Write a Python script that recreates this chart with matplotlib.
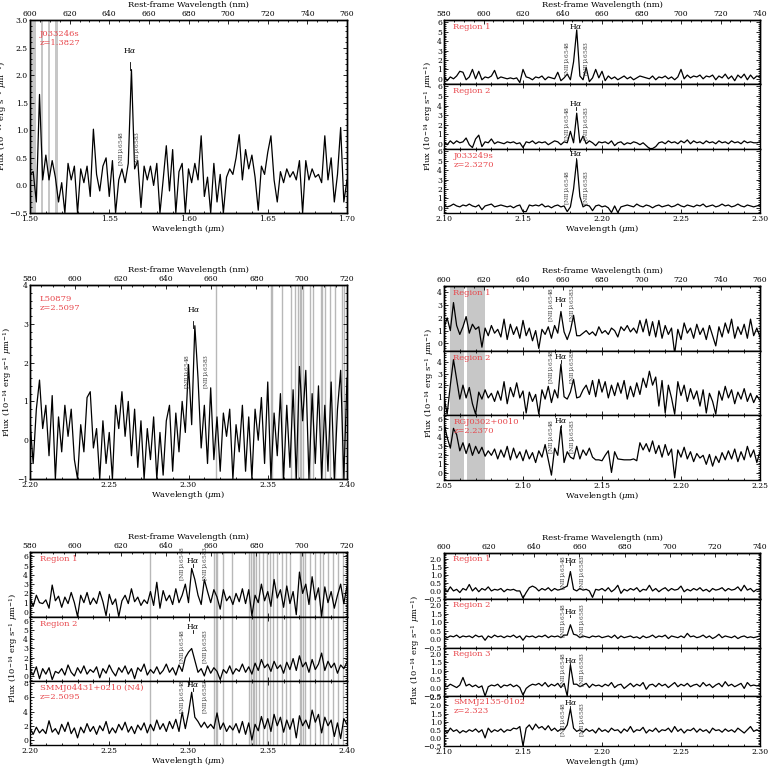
import numpy as np
import matplotlib.pyplot as plt
from matplotlib.ticker import MultipleLocator, AutoMinorLocator

plt.rcParams['font.family'] = 'DejaVu Serif'
plt.rcParams['mathtext.fontset'] = 'dejavuserif'

RED = '#e8474c'
W, H = 780.0, 767.0

# ---- spectra (flux, 1e-14 erg/s/um), evenly sampled over the x range ----
j033246 = [0.2, 0.25, -0.3, 1.65, 0.1, 0.55, 0.1, 0.45, 0.15, -0.3,
           0.05, -0.5, 0.4, 0.1, 0.35, -0.5, 0.3, 0.05, 0.35, -0.2,
           1.02, 0.2, -0.1, 0.35, 0.5, -0.2, 0.45, -0.5, 0.1, 0.3,
           0.05, 0.4, 2.1, 0.3, 0.45, -0.4, 0.35, 0.1, 0.35, 0.0,
           0.4, -0.5, 0.1, 0.72, -0.1, 0.65, -0.5, 0.25, 0.4, -0.5,
           0.3, 0.05, 0.4, 0.1, 0.9, -0.2, 0.15, -0.5, 0.4, -0.3,
           0.2, -0.5, 0.15, 0.3, 0.2, 0.5, 0.92, 0.1, 0.65, 0.3,
           0.55, 0.15, -0.45, 0.35, 0.2, 0.6, 0.9, 0.1, -0.3, 0.25,
           0.05, 0.3, 0.15, 0.25, 0.1, 0.45, -0.5, 0.45, 0.1, 0.3,
           0.15, 0.2, 0.05, 0.9, 0.1, 0.5, -0.3, 0.2, 1.05, -0.3, 0.1]

j033249_r1 = [0.3, -0.2, 0.2, 0.0, 0.3, 0.8, 0.7, -0.1, 0.2, 1.0,
              0.0, 0.8, -0.1, 0.2, 0.1, 0.3, 0.9, 0.0, 0.2, 0.1,
              0.0, 0.1, 0.0, 0.1, -0.4, 1.0, 0.2, 0.1, -0.1, 0.2,
              0.1, 0.3, -0.1, 0.2, 0.1, 0.0, 0.7, -0.2, 0.1, 0.5,
              -0.1, 1.8, 5.2, 0.3, -0.1, 1.2, -0.3, 0.1, 1.0, 0.1,
              0.8, -0.2, 0.3, 0.0, 0.2, -0.1, 0.1, 0.3, 0.0, 0.2,
              -0.1, 0.1, 0.3, 0.2, 0.1, 0.0, 0.3, -0.1, 0.2, 0.1,
              0.3, 0.0, 0.2, -0.1, 0.2, 1.0, 0.0, 0.4, 0.1, 0.3,
              0.2, 0.4, 0.0, 0.3, 0.2, 0.4, -0.1, 0.3, 0.1, 0.5,
              0.0, 0.3, -0.2, 0.4, 0.1, 0.5, -0.1, 0.4, 0.0, 0.3, 0.2]
j033249_r2 = [0.2, -0.1, 0.3, 0.0, 0.3, 0.1, 0.2, 0.6, -0.1, -0.4,
              0.5, 0.9, -0.3, 0.2, 0.1, 0.5, 0.0, 0.2, 0.1, 0.0,
              0.2, 0.1, 0.2, 0.0, 0.1, -0.4, 0.2, 0.1, 0.3, 0.0,
              0.2, 0.1, 0.2, -0.1, 0.1, 0.3, 0.2, -0.1, 0.2, 0.1,
              1.3, 0.1, 3.2, 0.1, 0.8, 0.0, 0.3, 0.1, -0.2, 0.2,
              0.1, 0.2, 0.0, 0.3, -0.2, 0.1, 0.2, -0.1, 0.1, 0.0,
              0.2, 0.1, -0.1, 0.1, -0.2, -0.5, -0.5, -0.3, 0.1, 0.2,
              0.0, 0.3, 0.1, 0.2, 0.0, 0.3, 0.1, 0.4, 0.0, 0.3,
              0.1, 0.2, 0.0, 0.3, 0.1, 0.2, 0.0, 0.3, 0.1, 0.2,
              0.0, 0.3, 0.1, 0.2, 0.0, 0.3, 0.1, 0.2, 0.1, 0.1, 0.2]
j033249_all = [0.3, 0.1, 0.2, 0.4, 0.2, 0.1, 0.3, 0.2, 0.4, 0.2,
               0.1, 0.3, -0.2, 0.2, 0.3, 0.4, 0.1, 0.2, 0.3, 0.2,
               0.1, 0.2, 0.0, 0.2, 0.3, -0.4, -0.4, 0.3, 0.2, 0.3,
               0.2, 0.4, 0.1, 0.2, 0.0, 0.2, 0.3, 0.1, 0.2, -0.4,
               0.1, 2.0, 5.1, 1.2, 0.1, 0.3, 0.2, -0.3, 0.2, 0.3,
               0.1, 0.2, 0.0, -0.5, 0.2, -0.5, 0.1, 0.2, 0.3, 0.2,
               0.1, 0.4, 0.2, 0.1, 0.3, 0.2, 0.0, 0.2, 0.3, 0.1,
               0.2, 0.3, 0.1, 0.2, 0.4, 0.2, 0.1, 0.3, 0.2, 0.1,
               0.3, 0.2, 0.4, 0.1, 0.2, 0.3, 0.1, 0.2, 0.4, 0.2,
               0.3, 0.1, 0.2, 0.4, 0.2, 0.1, 0.3, 0.2, 0.1, 0.2, 0.3]

l50879 = [0.5, -0.6, 0.8, 1.55, 0.3, 0.9, -0.4, 1.15, -1.0, 0.6,
          -0.3, 0.9, 0.1, 0.8, -0.5, -1.0, 0.4, -0.3, 1.1, 1.25,
          -0.2, 0.3, -1.0, 0.5, -0.6, 0.2, -1.0, 0.9, 0.3, 1.25,
          0.1, 1.0, -0.4, 0.8, -0.7, 0.5, -1.0, 0.3, -0.5, 0.6,
          -1.0, 0.2, -0.9, 0.5, 0.9, -0.8, 0.7, -0.3, 1.0, 0.2,
          1.95, 0.4, 2.95, 1.6, -0.2, 0.9, -0.6, 1.35, -0.5, 0.6,
          -0.8, 0.7, 0.1, 0.8, -1.0, 0.4, -0.3, 0.9, -0.8, 0.6,
          -1.0, 0.8, 0.0, 1.1, -0.6, 1.5, -1.0, 0.7, -0.4, 1.2,
          -1.0, 0.9, -0.7, 1.3, -1.0, 1.9, 0.5, 1.8, -1.0, 1.2,
          -0.6, 1.4, -1.0, 0.9, -0.8, 1.5, -1.0, 0.8, 1.8, -1.0, 1.6]

rgj0302_r1 = [1.2, 2.0, 1.0, 3.2, 1.4, 0.7, 1.3, 2.1, 0.8, 1.5,
              1.1, 1.3, -0.3, 1.2, 0.6, 1.4, 0.8, 1.1, 0.5, 1.9,
              0.3, 1.5, 0.7, 1.3, 0.4, 1.8, 0.6, 1.2, 0.2, 1.0,
              -0.4, 1.1, 0.7, 1.3, 0.4, 1.4, 0.8, 2.5, 0.9, 0.3,
              1.0, 2.2, 0.6, 0.6, 0.8, 1.0, 0.7, 0.9, 0.6, 1.3,
              0.8, 1.0, 0.7, 1.2, 1.0, 0.5, 1.3, 1.0, 1.4, 0.9,
              1.2, 0.8, 1.8, 0.9, 1.9, 0.6, 1.7, 0.5, 1.8, 0.4,
              1.4, 0.7, 1.2, -0.8, 1.1, 0.3, 1.6, 0.8, 1.2, 0.4,
              1.5, 0.7, 1.2, 0.3, 1.4, 0.6, -0.2, 1.3, 0.5, 1.6,
              0.8, 1.9, 0.4, 1.3, 0.7, 1.5, 0.4, 1.9, 0.6, 1.2, 0.5]
rgj0302_r2 = [1.0, -0.5, 2.0, 4.2, 2.5, 0.8, 2.0, 0.9, 1.8, 0.4,
              -0.5, 1.4, 0.8, 1.6, 0.9, 1.3, 0.6, 1.5, 0.7, 2.3,
              0.4, 1.8, 1.0, 2.2, 0.9, 1.5, -0.4, 1.4, 0.6, 1.2,
              -0.5, 1.6, 0.8, 1.9, 0.5, 1.6, 0.9, 3.8, 1.0, 0.8,
              1.4, 2.5, 0.9, 1.0, 1.6, 2.0, 1.2, 2.4, 1.0, 2.5,
              1.4, 2.3, 0.9, 2.0, 1.1, 2.2, 1.3, 2.4, 0.8, 1.9,
              1.0, 2.2, 1.2, 2.6, 1.8, 3.2, 2.0, 2.7, 0.2, 2.4,
              -0.4, 2.0, 0.9, -0.5, 2.3, 1.1, 2.0, 0.6, 1.7, 0.8,
              1.5, 0.2, 1.6, -0.4, 1.3, 0.6, -0.5, 1.5, 0.7, 1.9,
              0.9, 1.6, 0.4, 1.4, 0.8, 1.7, 0.6, 1.3, 0.5, 1.1, 0.7]
rgj0302_all = [5.5, 4.0, 2.8, 5.0, 4.3, 2.5, 3.4, 2.2, 3.3, 2.0,
               3.0, 2.2, 2.9, 1.9, 2.5, 2.0, 2.7, 1.6, 2.6, 1.8,
               3.0, 1.5, 2.8, 1.7, 2.4, 1.4, 2.6, 1.6, 2.3, 1.2,
               2.5, 1.8, 3.2, 1.5, -0.2, 2.8, 2.0, 5.2, 1.2, 2.4,
               1.8, 1.6, 3.0, 1.6, 2.6, 2.0, 2.8, 1.8, 1.5, 1.5,
               1.4, 2.0, 2.5, 0.1, 2.4, 1.6, 1.55, 1.5, 1.5, 1.5,
               1.6, 1.4, 3.4, 2.6, 3.3, 2.4, 3.6, 2.2, 3.1, 1.8,
               3.2, 2.0, 2.7, -0.5, 2.6, 1.8, 2.9, 1.6, 2.4, 1.3,
               2.2, 1.7, 2.0, 1.0, 2.1, 0.8, 1.9, 1.2, 2.3, 1.5,
               2.5, 1.6, 2.7, 1.3, 2.4, 1.5, 3.0, 1.8, 2.6, 1.2, 2.4]

smmj04431_r1 = [1.5, 0.6, 1.8, 1.0, 0.9, 1.3, 0.4, 2.9, 1.2, 1.7,
                0.5, 1.6, 0.9, 2.1, 1.0, -0.5, 1.8, 1.0, 2.1, 0.8,
                1.5, 0.9, 2.2, 1.1, -0.4, 1.9, 0.8, 1.4, -0.5, 1.2,
                1.8, 0.9, 2.5, 1.1, 1.6, 0.7, 1.3, 0.9, 2.2, 0.7,
                3.2, 0.4, 2.3, 1.2, 1.8, 0.8, 2.5, 1.0, 1.8, 3.0,
                1.0, 4.7, 3.5, 1.8, 0.8, 3.5, 2.2, 1.0, 2.4, 1.6,
                0.3, 2.4, 1.2, 1.7, 0.8, 2.0, 1.1, 2.5, 0.9, 2.4,
                -0.4, 1.8, 1.0, 3.0, 1.2, 2.2, 0.6, 3.5, 1.5, 2.4,
                0.5, 2.8, 0.9, 2.2, -0.3, 4.3, 2.0, 3.0, 0.8, 3.8,
                1.3, 2.6, -0.5, 2.7, 1.0, 2.2, 0.4, 1.8, 3.0, 0.9, 2.8]
smmj04431_r2 = [0.6, 0.1, 1.0, -0.3, 0.8, 0.2, 0.9, -0.4, 0.5, 0.3,
                0.8, 0.1, 1.2, 0.4, 0.0, 0.9, 0.3, 1.1, 0.2, 0.7,
                0.4, 1.0, -0.2, 0.8, 0.3, 1.2, 0.5, 0.0, 0.9, 0.4,
                1.1, 0.2, 0.8, -0.3, 0.9, 0.5, 1.3, 0.1, 0.7, 0.3,
                1.0, 0.2, 0.6, 1.3, 0.4, 0.9, 0.1, 1.2, 0.5, 2.0,
                2.6, 3.0, 1.7, 0.4, 0.8, 0.0, 1.1, 0.3, 0.9, 0.5,
                -0.4, 0.7, 0.3, 1.1, 0.2, 0.8, 0.5, 1.3, 0.4, 1.0,
                0.2, 1.4, 0.6, 1.8, 0.9, 1.3, 0.5, 1.6, 0.8, 1.2,
                0.3, 1.5, 0.7, 1.9, 0.6, 2.2, 1.0, 1.5, 0.4, 1.8,
                0.7, 1.3, 2.5, 0.6, 1.6, 0.9, 1.4, 0.3, 1.2, 0.8, 1.5]
smmj04431_all = [1.6, 0.8, 1.8, 1.0, 1.5, 0.9, 2.7, 1.1, 1.6, 0.8,
                 2.2, 1.2, 2.5, 0.9, 1.7, 0.3, 1.8, 1.0, 2.3, 1.2,
                 1.9, 0.8, 2.0, 1.3, 2.6, 0.9, 1.7, 1.0, 2.2, 1.4,
                 2.5, 1.1, 1.9, 0.9, 2.1, 1.4, 2.4, 1.0, 2.2, 1.3,
                 2.8, 1.5, 2.3, 1.2, 2.6, 1.6, 2.9, 1.2, 3.9, 1.6,
                 3.8, 6.7, 3.2, 2.6, 1.8, 2.5, 1.7, 2.2, 1.6, 3.8,
                 1.5, 2.4, 1.2, 2.0, 1.4, 2.3, 1.0, 2.6, 0.8, 2.4,
                 0.0, 2.2, 1.3, 3.3, 1.6, 3.0, 1.2, 3.6, 2.0, 3.2,
                 1.1, 2.8, 1.5, 3.0, 0.3, 3.4, 2.0, 2.8, 1.6, 4.2,
                 2.5, 3.6, 1.0, 3.2, 2.0, 2.8, 0.5, 2.4, 0.2, 3.0, 2.2]

smmj2135_r1 = [0.15, -0.05, 0.25, 0.0, 0.1, -0.1, 0.15, 0.05, 0.4, 0.0,
               0.2, -0.05, 0.15, 0.05, 0.25, 0.0, 0.1, 0.05, 0.15, -0.05,
               0.1, 0.05, 0.1, 0.0, 0.0, -0.45, -0.1, 0.2, 0.3, 0.2,
               0.0, 0.15, 0.05, 0.2, 0.0, 0.15, 0.05, 0.1, 0.2, 0.3,
               1.2, 0.1, 0.0, 0.15, 0.05, 0.1, 0.0, -0.4, 0.1, 0.05,
               0.15, 0.0, 0.2, -0.05, 0.1, 0.35, -0.15, 0.1, 0.0, 0.15,
               0.05, 0.2, -0.05, 0.1, 0.05, 0.35, 0.0, 0.15, -0.05, 0.1,
               0.2, 0.0, 0.15, 0.05, 0.1, 0.3, -0.05, 0.1, 0.0, 0.15,
               0.05, 0.2, 0.0, 0.1, -0.05, 0.15, 0.05, 0.1, 0.2, 0.0,
               0.15, 0.05, 0.1, 0.25, 0.0, 0.35, 0.05, 0.15, -0.05, 0.1, 0.05]
smmj2135_r2 = [0.2, 0.1, 0.2, 0.15, 0.25, 0.1, 0.2, 0.15, 0.2, 0.1,
               0.25, 0.15, 0.2, -0.05, 0.2, 0.1, 0.25, 0.15, 0.2, 0.1,
               0.2, 0.15, 0.25, 0.1, 0.2, -0.05, 0.2, 0.15, 0.2, 0.1,
               0.2, 0.15, 0.25, 0.1, 0.2, 0.15, 0.2, 0.1, 0.25, 0.25,
               0.85, 0.3, 0.25, 0.1, 0.2, 0.15, 0.1, 0.2, 0.15, 0.2,
               0.1, 0.15, 0.2, 0.1, 0.25, 0.05, 0.2, 0.1, 0.15, 0.2,
               0.1, 0.15, 0.05, 0.2, 0.1, 0.15, 0.25, 0.1, 0.2, 0.15,
               0.25, 0.05, 0.2, 0.15, 0.1, 0.2, 0.1, 0.35, 0.15, 0.2,
               0.1, 0.15, 0.25, 0.1, 0.2, 0.05, 0.15, 0.3, 0.1, 0.2,
               0.15, 0.1, 0.2, 0.05, 0.15, 0.2, 0.1, 0.15, 0.1, 0.15, 0.2]
smmj2135_r3 = [0.15, 0.05, 0.2, 0.1, 0.0, 0.15, 0.6, 0.1, 0.2, 0.05,
               0.15, 0.0, 0.1, -0.5, 0.05, 0.15, 0.1, 0.2, 0.0, 0.15,
               0.1, 0.2, 0.05, 0.15, 0.0, -0.45, -0.05, 0.1, 0.2, 0.15,
               0.25, 0.1, 0.3, 0.05, 0.2, 0.1, 0.25, 0.0, 0.25, -0.5,
               1.35, 0.2, 0.2, 0.05, 0.15, 0.25, 0.0, 0.2, 0.1, 0.15,
               0.05, 0.2, 0.1, 0.3, 0.0, 0.15, 0.2, -0.05, 0.1, 0.25,
               0.05, 0.2, 0.1, 0.3, -0.1, 0.15, 0.2, 0.05, 0.25, 0.1,
               0.2, 0.0, 0.15, 0.3, 0.05, 0.2, 0.1, 0.25, 0.05, 0.15,
               0.2, 0.05, 0.3, 0.1, 0.2, 0.0, 0.15, 0.25, 0.05, 0.35,
               0.1, 0.2, 0.05, 0.15, 0.25, -0.05, 0.3, 0.1, 0.15, 0.1, 0.15]
smmj2135_all = [0.5, 0.3, 0.6, 0.4, 0.5, 0.3, 0.45, 0.35, 0.5, 0.4,
                0.55, 0.35, 0.5, 0.0, 0.6, 0.35, 0.5, 0.4, 0.55, 0.35,
                0.5, 0.45, 0.6, 0.55, 0.7, -0.5, 0.6, 0.8, 0.5, 0.85,
                0.6, 0.7, 0.5, 0.75, 0.45, 0.6, 0.4, 0.55, 0.5, 0.8,
                1.8, 0.6, 0.4, 0.5, 0.35, 0.55, 0.4, 0.5, 0.3, 0.6,
                0.4, 0.5, 0.35, 0.6, 0.45, 0.5, 0.3, 0.55, 0.4, 0.7,
                0.35, 0.5, 0.45, 0.65, 0.3, 0.5, 0.4, 0.6, 0.35, 0.5,
                0.45, 0.6, 0.35, 0.7, 0.4, 0.55, 0.3, 0.5, 0.45, 0.6,
                0.35, 0.55, 0.4, 0.5, 0.3, 0.6, 0.45, 0.5, 0.35, 0.55,
                0.4, 0.5, 0.35, 0.6, 0.45, 0.3, 0.5, 0.7, 0.4, 0.5, 0.4]

# masked sky regions (um)
sky_p1 = [(1.500, 1.504), (1.5071, 1.5082), (1.5114, 1.5124), (1.5156, 1.5177)]
sky_p3 = [2.3172, 2.3518, 2.3528, 2.3587, 2.3644, 2.3673, 2.3688, 2.3705,
          2.3712, 2.3720, 2.3769, 2.3786, 2.3834, 2.3845, 2.3864, 2.3891,
          2.3922, 2.3970, 2.3978]
sky_p4 = [(2.0535, 2.0628), (2.0644, 2.0757)]
sky_p5 = [2.2759, 2.3164, 2.3172, 2.3182, 2.3216, 2.3277, 2.3384, 2.3395,
          2.3405, 2.3415, 2.3425, 2.3447, 2.3472, 2.3493, 2.3514, 2.3535,
          2.3560, 2.3587, 2.3614, 2.3639, 2.3702, 2.3712, 2.3722, 2.3734,
          2.3765, 2.3797, 2.3828, 2.3849, 2.3881, 2.3912, 2.3943, 2.3975]

FLUX = 'Flux (10$^{-14}$ erg s$^{-1}$ $\\mu$m$^{-1}$)'
XL, XR = 444, 760   # right-column axes edges (px)


def rect(x0, y0, x1, y1):
    return [x0 / W, 1 - y1 / H, (x1 - x0) / W, (y1 - y0) / H]


def style(ax, ystep, top=True):
    ax.xaxis.set_major_locator(MultipleLocator(0.05))
    ax.xaxis.set_minor_locator(AutoMinorLocator(5))
    ax.yaxis.set_major_locator(MultipleLocator(ystep))
    ax.yaxis.set_minor_locator(AutoMinorLocator(5))
    ax.tick_params(which='both', direction='in', top=top, right=True,
                   labelsize=5.5, width=0.6, pad=1.5)
    ax.tick_params(which='major', length=3)
    ax.tick_params(which='minor', length=1.5)
    ax.tick_params(axis='x', pad=1.2)
    for s in ax.spines.values():
        s.set_linewidth(1.0)


def spectrum(fig, box, xlim, flux, ylim, ystep, label, ha, nii, ha_x, nii_x,
             bottom=False, first=False, rest=None, bands=None, lines=None):
    ax = fig.add_axes(rect(*box))
    wave = np.linspace(xlim[0], xlim[1], len(flux))
    if bands:
        for b0, b1 in bands:
            ax.axvspan(b0, b1, color='0.78', lw=0, zorder=1)
    if lines:
        for l in lines:
            ax.axvline(l, color='0.72', lw=1.0, zorder=1)
    ax.plot(wave, flux, color='k', lw=0.9, zorder=3)
    ax.set_xlim(xlim)
    ax.set_ylim(ylim)
    style(ax, ystep, top=not first)
    if not bottom:
        ax.tick_params(labelbottom=False)
    else:
        ax.set_xlabel('Wavelength ($\\mu$m)', fontsize=6, labelpad=0)
    ax.text(0.03, 0.95, label, transform=ax.transAxes, color=RED,
            fontsize=6, va='top', linespacing=1.15, zorder=5)
    rng = ylim[1] - ylim[0]
    ax.text(ha_x, ha, 'H$\\alpha$', fontsize=5.5, ha='center', va='center', zorder=5)
    ax.plot([ha_x, ha_x], [ha - 0.1 * rng, ha - 0.06 * rng], color='k', lw=0.6, zorder=5)
    ax.text(nii_x[0], nii, '[NII]$\\lambda$6548', rotation=90, fontsize=4.3,
            ha='center', va='bottom', color='0.25', zorder=5)
    ax.text(nii_x[1], nii, '[NII]$\\lambda$6583', rotation=90, fontsize=4.3,
            ha='center', va='bottom', color='0.25', zorder=5)
    if first:
        tw = ax.twiny()
        tw.set_xlim(rest)
        tw.xaxis.set_major_locator(MultipleLocator(20))
        tw.xaxis.set_minor_locator(AutoMinorLocator(4))
        tw.tick_params(which='both', direction='in', labelsize=5.5, width=0.6, pad=1.5)
        tw.tick_params(which='major', length=3)
        tw.tick_params(which='minor', length=1.5)
        tw.set_xlabel('Rest-frame Wavelength (nm)', fontsize=6, labelpad=2)
        for s in tw.spines.values():
            s.set_linewidth(1.0)
    return ax


fig = plt.figure(figsize=(7.8, 7.67), dpi=100)

# panel 1: J033246s
spectrum(fig, (30, 20, 347, 213), (1.50, 1.70), j033246, (-0.5, 3.0), 0.5,
         'J033246s\nz=1.3827', 2.45, 0.35, 1.5632, (1.5582, 1.5679),
         bottom=True, first=True, rest=(600, 760), bands=sky_p1)
fig.text(3 / W, 1 - 116 / H, FLUX, rotation=90, fontsize=6, ha='center', va='center')

# panel 2: J033249s
ha2, nii2 = 2.1835, (2.1781, 2.1906)
spectrum(fig, (XL, 20, XR, 84), (2.10, 2.30), j033249_r1, (-0.55, 6.25), 1,
         'Region 1', 5.6, 0.3, ha2, nii2, first=True, rest=(580, 740))
spectrum(fig, (XL, 84, XR, 149), (2.10, 2.30), j033249_r2, (-0.55, 6.25), 1,
         'Region 2', 4.2, 0.3, ha2, nii2)
spectrum(fig, (XL, 149, XR, 213), (2.10, 2.30), j033249_all, (-0.55, 6.25), 1,
         'J033249s\nz=2.3270', 5.75, 0.3, ha2, nii2, bottom=True)
fig.text(428 / W, 1 - 116 / H, FLUX, rotation=90, fontsize=6, ha='center', va='center')

# panel 3: L50879
spectrum(fig, (30, 285, 347, 479), (2.20, 2.40), l50879, (-1, 4), 1,
         'L50879\nz=2.5097', 3.38, 1.32, 2.3031, (2.2994, 2.3115),
         bottom=True, first=True, rest=(580, 720), lines=sky_p3)
fig.text(8 / W, 1 - 382 / H, FLUX, rotation=90, fontsize=6, ha='center', va='center')

# panel 4: RGJ0302+0010
ha4, nii4 = 2.1238, (2.1180, 2.1315)
spectrum(fig, (XL, 286, XR, 351), (2.05, 2.25), rgj0302_r1, (-0.6, 4.5), 1,
         'Region 1', 3.45, 1.7, ha4, nii4,
         first=True, rest=(600, 760), bands=sky_p4)
spectrum(fig, (XL, 351, XR, 415), (2.05, 2.25), rgj0302_r2, (-0.57, 4.94), 1,
         'Region 2', 4.5, 2.1, ha4, nii4, bands=sky_p4)
spectrum(fig, (XL, 415, XR, 480), (2.05, 2.25), rgj0302_all, (-0.74, 6.48), 1,
         'RGJ0302+0010\nz=2.2370', 5.85, 2.2, ha4, nii4,
         bottom=True, bands=sky_p4)
fig.text(429 / W, 1 - 383 / H, FLUX, rotation=90, fontsize=6, ha='center', va='center')

# panel 5: SMMJ04431+0210
spectrum(fig, (30, 552, 347, 617), (2.20, 2.40), smmj04431_r1, (-0.55, 6.47), 1,
         'Region 1', 5.6, 3.3, 2.3027, (2.2964, 2.311),
         first=True, rest=(580, 720), lines=sky_p5)
spectrum(fig, (30, 617, 347, 681), (2.20, 2.40), smmj04431_r2, (-0.55, 6.44), 1,
         'Region 2', 5.4, 1.35, 2.3027, (2.2964, 2.311), lines=sky_p5)
spectrum(fig, (30, 681, 347, 745), (2.20, 2.40), smmj04431_all, (-0.7, 8.28), 2,
         'SMMJ04431+0210 (N4)\nz=2.5095', 7.8, 3.7, 2.3027, (2.2964, 2.311),
         bottom=True, lines=sky_p5)
fig.text(14 / W, 1 - 648 / H, FLUX, rotation=90, fontsize=6, ha='center', va='center')

# panel 6: SMMJ2135-0102
ha6, nii6 = 2.1800, (2.1756, 2.1876)
spectrum(fig, (XL, 553, XR, 599), (2.10, 2.30), smmj2135_r1, (-0.5, 2.35), 0.5,
         'Region 1', 1.9, 0.06, ha6, nii6, first=True, rest=(600, 740))
spectrum(fig, (XL, 599, XR, 648), (2.10, 2.30), smmj2135_r2, (-0.5, 2.35), 0.5,
         'Region 2', 1.6, 0.06, ha6, nii6)
spectrum(fig, (XL, 648, XR, 696), (2.10, 2.30), smmj2135_r3, (-0.5, 2.35), 0.5,
         'Region 3', 1.63, 0.06, ha6, nii6)
spectrum(fig, (XL, 696, XR, 746), (2.10, 2.30), smmj2135_all, (-0.5, 2.58), 0.5,
         'SMMJ2135-0102\nz=2.323', 2.16, 0.06, ha6, nii6, bottom=True)
fig.text(415 / W, 1 - 650 / H, FLUX, rotation=90, fontsize=6, ha='center', va='center')

fig.savefig('out.png', dpi=100)
